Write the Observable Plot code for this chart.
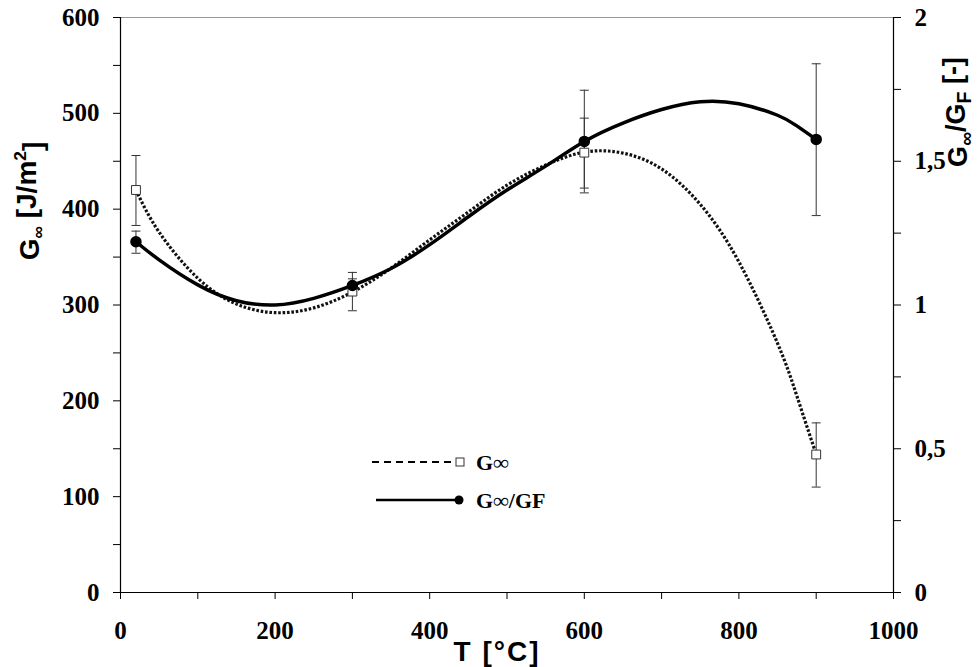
<!DOCTYPE html>
<html>
<head>
<meta charset="utf-8">
<script src="https://cdn.jsdelivr.net/npm/d3@7"></script>
<script src="https://cdn.jsdelivr.net/npm/@observablehq/plot@0.6"></script>
<style>
  html, body { margin: 0; padding: 0; background: #fff; }
  #chart { width: 980px; height: 667px; }
</style>
</head>
<body>
<div id="chart"></div>
<script>
// ---- measured points ----
const temps = [20, 300, 600, 900];
const gInf = [420, 314, 459, 144];
const gInfLow = [383, 294, 422, 110];
const gInfHigh = [456, 334, 495, 177];
const ratio = [1.22, 1.068, 1.569, 1.576];
const ratioLow = [1.18, 1.045, 1.39, 1.311];
const ratioHigh = [1.257, 1.091, 1.747, 1.839];

// ---- trend curves ----
const gInfTrendT = [20, 50, 100, 150, 200, 250, 300, 350, 400, 450, 500, 550, 600, 650, 700, 750, 800, 850, 875, 900];
const gInfTrendV = [420, 376, 328, 301, 292, 297, 313.5, 338.5, 368, 397, 425, 446, 459.5, 458.5, 442, 405, 345, 260, 205, 144];
const ratioTrendT = [20, 50, 100, 150, 200, 250, 300, 350, 400, 450, 500, 550, 600, 650, 700, 750, 800, 850, 875, 900];
const ratioTrendV = [1.22, 1.157, 1.07, 1.015, 1.0, 1.023, 1.068, 1.127, 1.21, 1.307, 1.40, 1.483, 1.569, 1.633, 1.68, 1.707, 1.70, 1.66, 1.623, 1.576];

// ---- axis ticks ----
const xTicks = d3.range(0, 1001, 100);
const xLabels = [0, 200, 400, 600, 800, 1000];
const yTicks = d3.range(0, 601, 50);
const yLabels = [0, 100, 200, 300, 400, 500, 600];
const rightTicks = [0, 0.25, 0.5, 0.75, 1, 1.25, 1.5, 1.75, 2];
const rightLabels = {0: "0", 0.5: "0,5", 1: "1", 1.5: "1,5", 2: "2"};

const K = 300; // right axis 0..2 maps to left axis 0..600

const points = temps.map((t, i) => ({
  t, g: gInf[i], gl: gInfLow[i], gh: gInfHigh[i],
  r: ratio[i] * K, rl: ratioLow[i] * K, rh: ratioHigh[i] * K
}));
const gTrend = gInfTrendT.map((t, i) => ({t, v: gInfTrendV[i]}));
const rTrend = ratioTrendT.map((t, i) => ({t, v: ratioTrendV[i] * K}));

const capSymbol = {
  draw(ctx, size) {
    const w = Math.sqrt(size / Math.PI);
    ctx.moveTo(-w, 0);
    ctx.lineTo(w, 0);
  }
};

const chart = Plot.plot({
  width: 980,
  height: 667,
  marginLeft: 120,
  marginRight: 87,
  marginTop: 17,
  marginBottom: 75,
  x: {domain: [0, 1000]},
  y: {domain: [0, 600]},
  style: {fontFamily: "'Liberation Serif', 'Times New Roman', serif", fontWeight: "bold", fontSize: "25px", color: "#000", background: "#fff", overflow: "visible"},
  marks: [
    Plot.ruleY([600], {stroke: "#999", strokeWidth: 1}),
    Plot.axisX(xTicks, {tickSize: 7, tickPadding: 22, tickFormat: d => xLabels.includes(d) ? String(d) : "", label: null, stroke: "#000"}),
    Plot.axisY(yTicks, {tickSize: 7, tickPadding: 14, tickFormat: d => yLabels.includes(d) ? String(d) : "", label: null, stroke: "#000"}),
    Plot.axisY(rightTicks.map(v => v * K), {anchor: "right", tickSize: 7, tickPadding: 14, tickFormat: d => rightLabels[d / K] ?? "", label: null, stroke: "#000"}),
    Plot.ruleX([0], {stroke: "#000", strokeWidth: 1.2}),
    Plot.ruleX([1000], {stroke: "#000", strokeWidth: 1.2}),
    Plot.ruleY([0], {stroke: "#000", strokeWidth: 1.2}),
    // error bars
    Plot.ruleX(points, {x: "t", y1: "gl", y2: "gh", stroke: "#333", strokeWidth: 1}),
    Plot.ruleX(points, {x: "t", y1: "rl", y2: "rh", stroke: "#333", strokeWidth: 1}),
    Plot.dot(points.flatMap(p => [{t: p.t, y: p.gl}, {t: p.t, y: p.gh}, {t: p.t, y: p.rl}, {t: p.t, y: p.rh}]),
      {x: "t", y: "y", symbol: capSymbol, r: 4.5, stroke: "#333", strokeWidth: 1, fill: "none"}),
    // trend curves
    Plot.line(gTrend, {x: "t", y: "v", curve: "natural", stroke: "#111", strokeWidth: 3.2, strokeDasharray: "2.6,1.8", strokeLinecap: "butt"}),
    Plot.line(rTrend, {x: "t", y: "v", curve: "natural", stroke: "#000", strokeWidth: 3.5}),
    // markers
    Plot.dot(points, {x: "t", y: "g", symbol: "square", r: 5, fill: "#fff", stroke: "#333", strokeWidth: 1}),
    Plot.dot(points, {x: "t", y: "r", r: 5, fill: "#000", stroke: "#000"})
  ]
});

document.getElementById("chart").appendChild(chart);

// ---- titles & legend ----
const svg = d3.select(chart);
const sans = "'Liberation Sans', Arial, sans-serif";
const serif = "'Liberation Serif', 'Times New Roman', serif";

function richText(g, parts) {
  for (const p of parts) {
    const ts = g.append("tspan").text(p.t);
    if (p.sub) ts.attr("dy", "0.3em").attr("font-size", p.size || "62%");
    if (p.sup) ts.attr("dy", "-0.55em").attr("font-size", "62%");
    if (p.back) ts.attr("dy", p.back);
  }
}

// left title
const lt = svg.append("text")
  .attr("transform", "translate(39,201) rotate(-90)")
  .attr("text-anchor", "middle")
  .attr("font-family", sans).attr("font-weight", "bold").attr("font-size", 28).attr("fill", "#000");
richText(lt, [{t: "G"}, {t: "∞", sub: true}, {t: " [J/m", back: "-0.3em"}, {t: "2", sup: true}, {t: "]", back: "0.55em"}]);

// right title
const rt = svg.append("text")
  .attr("transform", "translate(967,112) rotate(-90)")
  .attr("text-anchor", "middle")
  .attr("font-family", sans).attr("font-weight", "bold").attr("font-size", 27).attr("fill", "#000");
richText(rt, [{t: "G"}, {t: "∞", sub: true, size: "72%"}, {t: "/G", back: "-0.3em"}, {t: "F", sub: true, size: "72%"}, {t: " [-]", back: "-0.3em"}]);

// x title
svg.append("text")
  .attr("x", 497).attr("y", 661)
  .attr("text-anchor", "middle")
  .attr("font-family", sans).attr("font-weight", "bold").attr("font-size", 28).attr("letter-spacing", 2).attr("fill", "#000")
  .text("T [°C]");

// legend
const lg = svg.append("g").attr("text-anchor", "start");
lg.append("line").attr("x1", 372).attr("x2", 456).attr("y1", 462).attr("y2", 462)
  .attr("stroke", "#000").attr("stroke-width", 2).attr("stroke-dasharray", "7,5");
lg.append("rect").attr("x", 456).attr("y", 458).attr("width", 8).attr("height", 8)
  .attr("fill", "#fff").attr("stroke", "#333").attr("stroke-width", 1);
lg.append("text").attr("x", 476).attr("y", 470).attr("text-anchor", "start")
  .attr("font-family", serif).attr("font-weight", "bold").attr("font-size", 22).attr("fill", "#000").text("G∞");
lg.append("line").attr("x1", 376).attr("x2", 458).attr("y1", 500).attr("y2", 500)
  .attr("stroke", "#000").attr("stroke-width", 2.5);
lg.append("circle").attr("cx", 459).attr("cy", 500).attr("r", 4.5).attr("fill", "#000");
lg.append("text").attr("x", 476).attr("y", 508).attr("text-anchor", "start")
  .attr("font-family", serif).attr("font-weight", "bold").attr("font-size", 22).attr("fill", "#000").text("G∞/GF");
</script>
</body>
</html>
